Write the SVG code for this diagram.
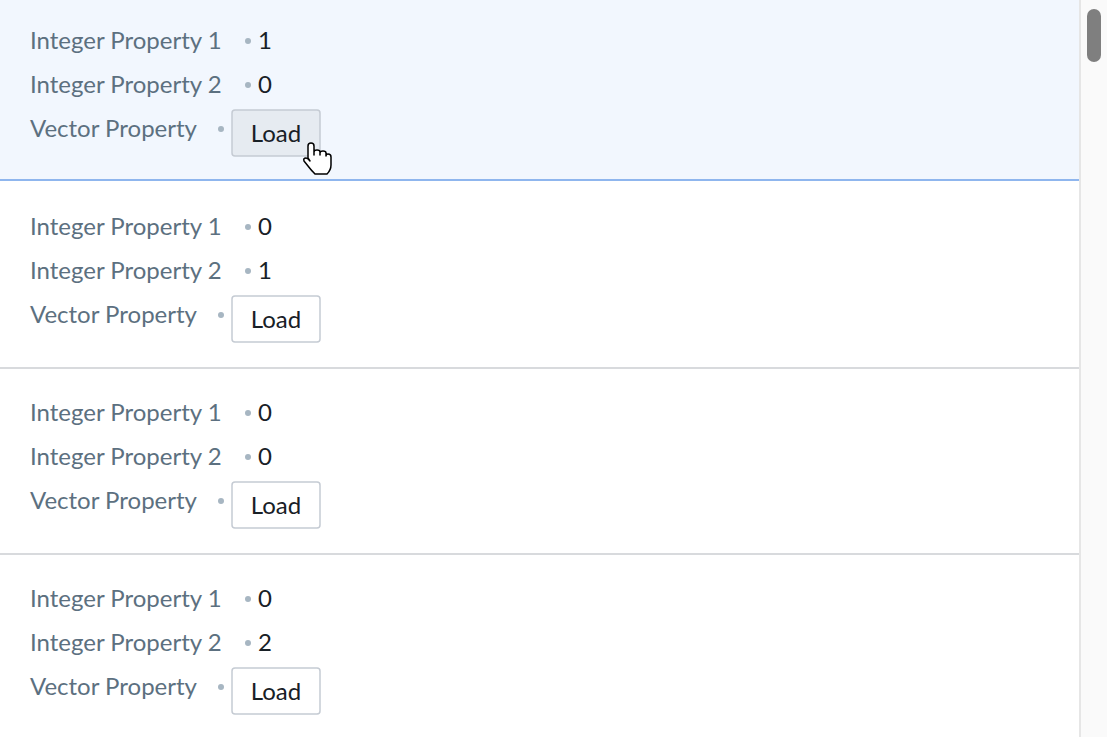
<svg xmlns="http://www.w3.org/2000/svg" width="1107" height="737" viewBox="0 0 1107 737">
<style>
.l{font-family:Lato,"Source Sans Pro","Liberation Sans",sans-serif;font-size:24px;fill:#5c7080}
.v{font-family:Lato,"Liberation Sans",sans-serif;font-size:24px;fill:#182026}
.d{fill:#a7b6c2}
.b{fill:#fff;stroke:#c5cbd3;stroke-width:1.5}
.bt{font-family:Lato,"Liberation Sans",sans-serif;font-size:24px;fill:#182026;text-anchor:middle}
.sep{stroke:#d8dadd;stroke-width:2}
</style>
<rect width="1107" height="737" fill="#fff"/>
<rect x="0" y="0" width="1079" height="180" fill="#f2f7fe"/>
<g id="connectors">
<line x1="0" y1="180" x2="1079" y2="180" stroke="#8fb6ee" stroke-width="2"/>
<line class="sep" x1="0" y1="368" x2="1079" y2="368"/>
<line class="sep" x1="0" y1="554" x2="1079" y2="554"/>
</g>
<g id="row1">
<text class="l" x="30" y="49">Integer Property 1</text><circle class="d" cx="248" cy="41" r="3"/><text class="v" x="258" y="49">1</text>
<text class="l" x="30" y="93">Integer Property 2</text><circle class="d" cx="248" cy="85" r="3"/><text class="v" x="258" y="93">0</text>
<text class="l" x="30" y="137">Vector Property</text><circle class="d" cx="221" cy="129" r="3"/>
<rect x="232" y="110" width="88" height="46" rx="3" fill="#e6ebf1" stroke="#c5cbd3" stroke-width="1.5"/><text class="bt" x="276" y="142">Load</text>
</g>
<g id="row2">
<text class="l" x="30" y="235">Integer Property 1</text><circle class="d" cx="248" cy="227" r="3"/><text class="v" x="258" y="235">0</text>
<text class="l" x="30" y="279">Integer Property 2</text><circle class="d" cx="248" cy="271" r="3"/><text class="v" x="258" y="279">1</text>
<text class="l" x="30" y="323">Vector Property</text><circle class="d" cx="221" cy="315" r="3"/>
<rect class="b" x="232" y="296" width="88" height="46" rx="3"/><text class="bt" x="276" y="328">Load</text>
</g>
<g id="row3">
<text class="l" x="30" y="421">Integer Property 1</text><circle class="d" cx="248" cy="413" r="3"/><text class="v" x="258" y="421">0</text>
<text class="l" x="30" y="465">Integer Property 2</text><circle class="d" cx="248" cy="457" r="3"/><text class="v" x="258" y="465">0</text>
<text class="l" x="30" y="509">Vector Property</text><circle class="d" cx="221" cy="501" r="3"/>
<rect class="b" x="232" y="482" width="88" height="46" rx="3"/><text class="bt" x="276" y="514">Load</text>
</g>
<g id="row4">
<text class="l" x="30" y="607">Integer Property 1</text><circle class="d" cx="248" cy="599" r="3"/><text class="v" x="258" y="607">0</text>
<text class="l" x="30" y="651">Integer Property 2</text><circle class="d" cx="248" cy="643" r="3"/><text class="v" x="258" y="651">2</text>
<text class="l" x="30" y="695">Vector Property</text><circle class="d" cx="221" cy="687" r="3"/>
<rect class="b" x="232" y="668" width="88" height="46" rx="3"/><text class="bt" x="276" y="700">Load</text>
</g>
<g id="cursor">
<path d="M308 158 l0 -12 q0 -3 3 -3 q3 0 3 3 l0 9 l0 -3 q0 -2 3 -2 q3 0 3 2 l0 3 l0 -2 q0 -2 3 -2 q3 0 3 2 l0 3 q0 -2 2 -2 q3 0 3 3 l0 8 q0 5 -4 9 l-12 0 q-4 -4 -7 -8 l-4 -5 q-1 -3 2 -3 q2 0 4 3 z" fill="#fff" stroke="#000" stroke-width="1.5" stroke-linejoin="round"/>
</g>
<g id="scrollbar">
<rect x="1079" y="0" width="28" height="737" fill="#fafafa"/>
<line x1="1080" y1="0" x2="1080" y2="737" stroke="#e6e6e6" stroke-width="2"/>
<rect x="1087" y="9" width="14" height="53" rx="7" fill="#7f7f7f"/>
</g>
</svg>
